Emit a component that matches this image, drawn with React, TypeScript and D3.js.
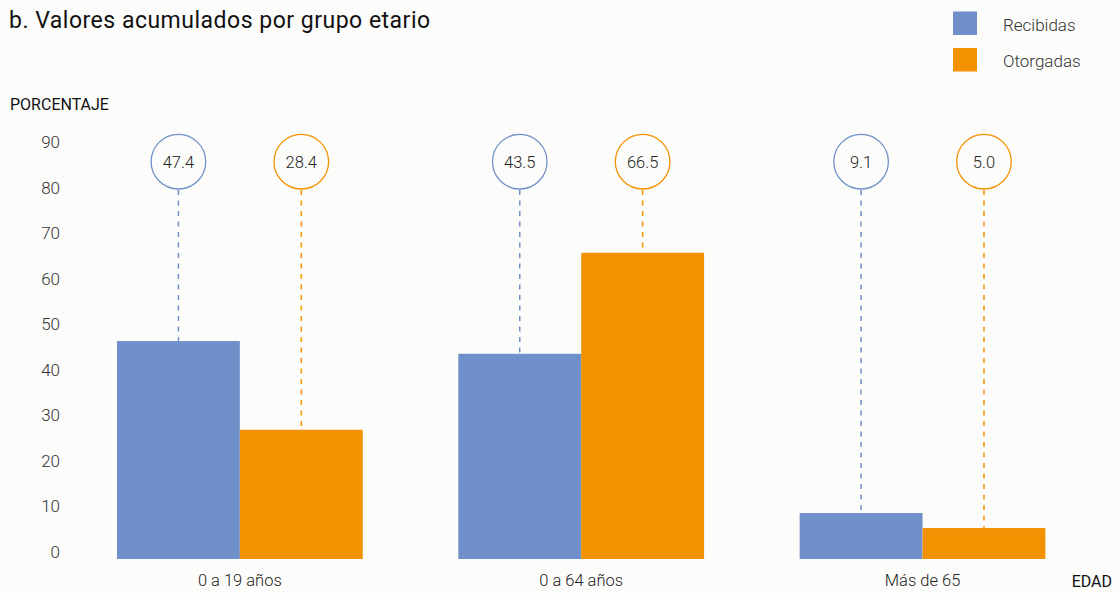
import React from "react";
import * as d3 from "d3";

const categories = ["0 a 19 años", "0 a 64 años", "Más de 65"];
const seriesNames = ["Recibidas", "Otorgadas"];
const recibidasBars = [47.9, 45.1, 10.1];
const otorgadasBars = [28.4, 67.3, 6.8];
const recibidasLabels = ["47.4", "43.5", "9.1"];
const otorgadasLabels = ["28.4", "66.5", "5.0"];
const yTicks = [0, 10, 20, 30, 40, 50, 60, 70, 80, 90];
const colors = ["#7090c9", "#f29200"];

const W = 1120;
const H = 593;
const FONT = "Roboto, 'Noto Sans', sans-serif";

export default function App() {
  const y = d3.scaleLinear().domain([0, 90]).range([559, 149.5]);
  const x0 = d3
    .scaleBand<string>()
    .domain(categories)
    .range([69.2, 1093.2])
    .paddingInner(0.28)
    .paddingOuter(0.14);
  const x1 = d3
    .scaleBand<string>()
    .domain(seriesNames)
    .range([0, x0.bandwidth()])
    .padding(0);

  const barData = [recibidasBars, otorgadasBars];
  const labelData = [recibidasLabels, otorgadasLabels];
  const circleY = 161.7;
  const r = 27.3;

  return (
    <svg
      width={W}
      height={H}
      style={{ position: "absolute", left: 0, top: 0, background: "#fcfcfa" }}
      fontFamily={FONT}
    >
      <rect x={0} y={0} width={W} height={H} fill="#fcfcfa" />
      <text x={9} y={28} fontSize={23} letterSpacing={0.5} fill="#111">
        b. Valores acumulados por grupo etario
      </text>

      {seriesNames.map((s, i) => (
        <g key={s}>
          <rect x={953} y={11.5 + i * 36.5} width={24} height={23.5} fill={colors[i]} />
          <text x={1003} y={30.5 + i * 36} fontSize={17} fontWeight={300} fill="#333">
            {s}
          </text>
        </g>
      ))}

      <text x={10} y={109.5} fontSize={16} fill="#111">
        PORCENTAJE
      </text>

      {yTicks.map((t) => (
        <text
          key={t}
          x={60}
          y={y(t) - 1.5}
          fontSize={17}
          fontWeight={300}
          fill="#333"
          textAnchor="end"
        >
          {t}
        </text>
      ))}

      {categories.map((c, ci) => (
        <g key={c} transform={`translate(${x0(c)},0)`}>
          {seriesNames.map((s, si) => {
            const v = barData[si][ci];
            const bx = x1(s)!;
            const cx = bx + x1.bandwidth() / 2;
            return (
              <g key={s}>
                <rect
                  x={bx}
                  y={y(v)}
                  width={x1.bandwidth()}
                  height={y(0) - y(v)}
                  fill={colors[si]}
                />
                <line
                  x1={cx}
                  x2={cx}
                  y1={circleY + r + 1}
                  y2={y(v)}
                  stroke={colors[si]}
                  strokeWidth={1.5}
                  strokeDasharray="5,5.5"
                />
                <circle
                  cx={cx}
                  cy={circleY}
                  r={r}
                  fill="#fcfcfa"
                  stroke={colors[si]}
                  strokeWidth={1.3}
                />
                <text
                  x={cx}
                  y={circleY + 6}
                  fontSize={16.5}
                  fontWeight={300}
                  fill="#222"
                  textAnchor="middle"
                >
                  {labelData[si][ci]}
                </text>
              </g>
            );
          })}
          <text
            x={x0.bandwidth() / 2}
            y={586}
            fontSize={16.5}
            fontWeight={300}
            fill="#222"
            textAnchor="middle"
          >
            {c}
          </text>
        </g>
      ))}

      <text x={1112} y={586.5} fontSize={16} fill="#111" textAnchor="end">
        EDAD
      </text>
    </svg>
  );
}
